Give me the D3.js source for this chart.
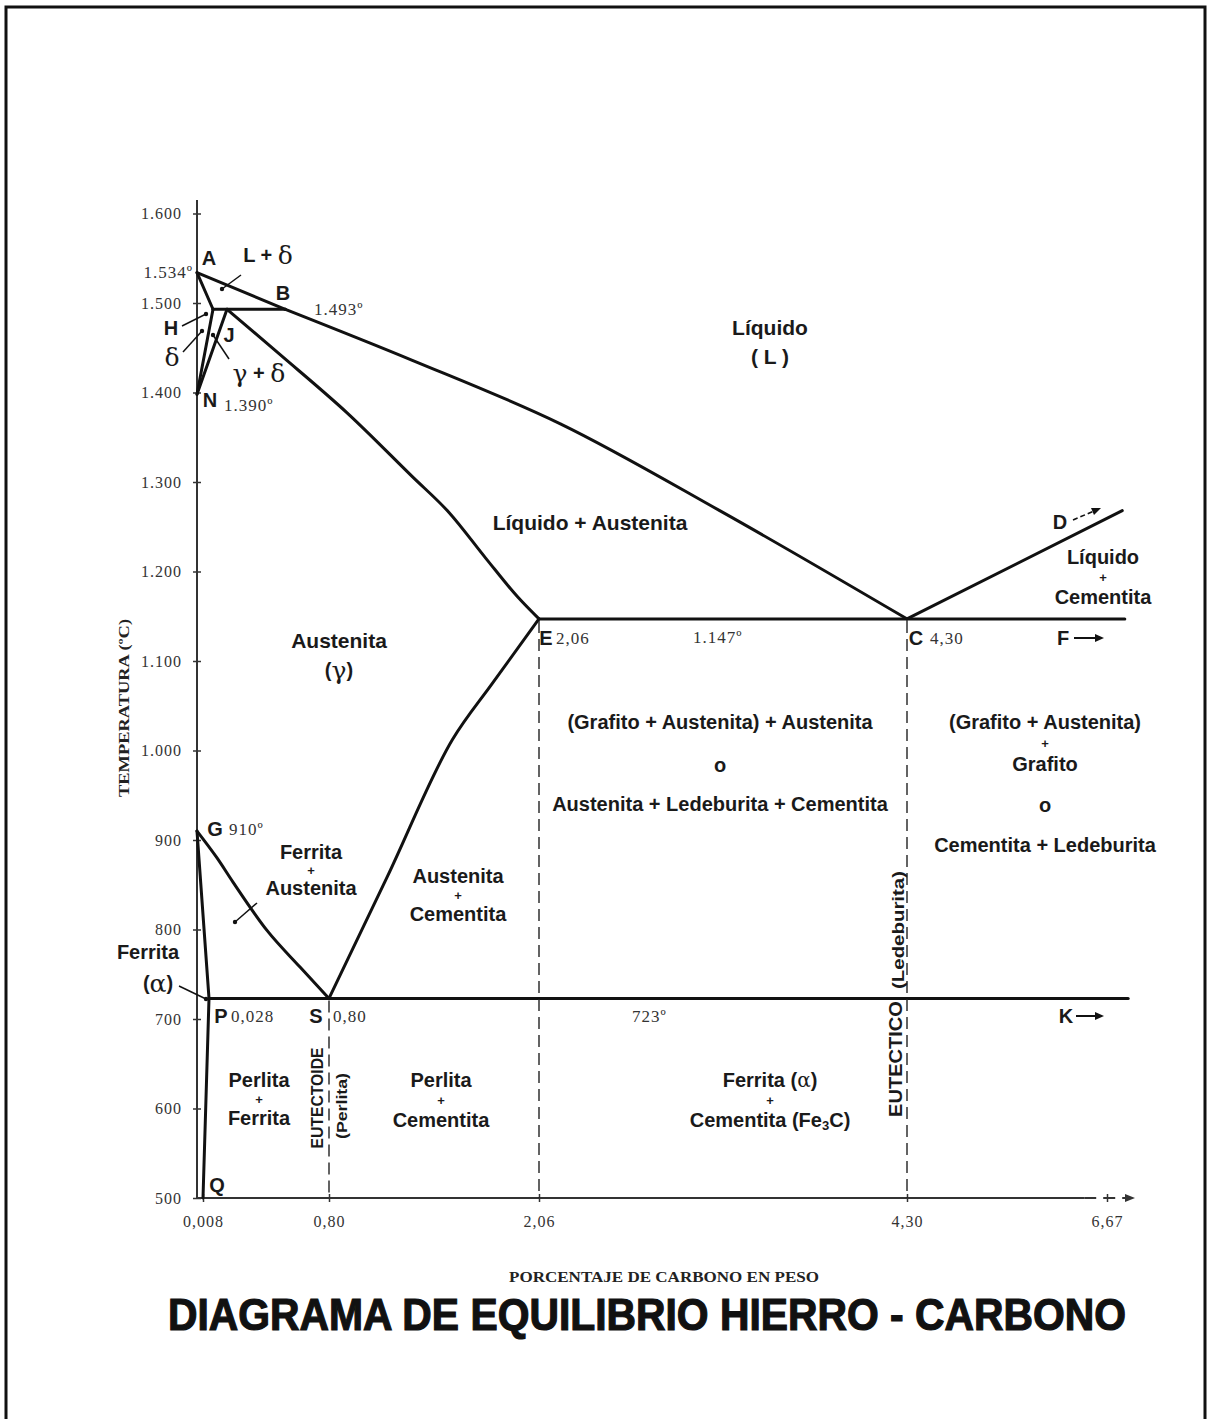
<!DOCTYPE html>
<html lang="es">
<head>
<meta charset="UTF-8">
<title>Diagrama de equilibrio hierro - carbono</title>
<style>
  body { margin: 0; background: #fff; }
  svg { display: block; }
  .phase { fill: none; stroke: #111; stroke-width: 3; stroke-linejoin: round; stroke-linecap: round; }
  .drop { fill: none; stroke: #222; stroke-width: 1.4; stroke-dasharray: 12 6; }
  .lbl { font-family: "Liberation Sans", Arial, sans-serif; font-weight: bold; font-size: 20px; fill: #1a1a1a; text-anchor: middle; dominant-baseline: central; }
  .plus { font-size: 13px; }
  .num { font-family: "Liberation Serif", "Times New Roman", serif; font-size: 17px; letter-spacing: 1px; fill: #333; dominant-baseline: central; }
  .greek { font-family: "DejaVu Serif", "Liberation Serif", serif; font-weight: normal; }
  .axis text { font-family: "Liberation Serif", "Times New Roman", serif; font-size: 16px; letter-spacing: 1px; fill: #333; }
  .axis line { stroke: #333; stroke-width: 1.5; }
  .axtitle { font-family: "Liberation Serif", serif; font-weight: bold; font-size: 14px; fill: #222; text-anchor: middle; }
</style>
</head>
<body>
<svg id="chart" width="1211" height="1419"></svg>
<script src="https://cdnjs.cloudflare.com/ajax/libs/d3/7.9.0/d3.min.js"></script>
<script>
// axis ticks
const yTicks = [500, 600, 700, 800, 900, 1000, 1100, 1200, 1300, 1400, 1500, 1600];
const yTickLabels = ["500", "600", "700", "800", "900", "1.000", "1.100", "1.200", "1.300", "1.400", "1.500", "1.600"];
const xTicks = [0.008, 0.8, 2.06, 4.30, 6.67];
const xTickLabels = ["0,008", "0,80", "2,06", "4,30", "6,67"];

// phase boundaries as [carbon %, temperature ºC]
const liquidusAB = [[0, 1534], [0.53, 1493]];
const liquidusBC = [[0.53, 1493], [1.30, 1436], [2.19, 1365], [3.16, 1268], [4.30, 1147]];
const liquidusCD = [[4.30, 1147], [6.85, 1268]];
const peritecticHB = [[0.09, 1493], [0.53, 1493]];
const deltaAH = [[0, 1534], [0.09, 1493]];
const deltaHN = [[0.09, 1493], [0, 1398]];
const deltaJN = [[0.17, 1493], [0, 1398]];
const solidusJE = [[0.17, 1493], [0.50, 1442], [0.91, 1377], [1.30, 1306], [1.52, 1266], [1.74, 1215], [1.93, 1172], [2.06, 1147]];
const eutecticEF = [[2.06, 1147], [6.88, 1147]];
const acmSE = [[0.8, 723], [1.15, 859], [1.54, 1012], [1.78, 1075], [2.06, 1147]];
const a3GS = [[0, 910], [0.113, 880], [0.207, 853], [0.417, 799], [0.621, 758], [0.8, 723]];
const ferriteGP = [[0, 910], [0.028, 723]];
const ferritePQ = [[0.028, 723], [0.008, 500]];
const eutectoidPK = [[0.028, 723], [6.92, 723]];
// dashed drops from S, E and C down to the axis
const dropLines = [[0.8, 723], [2.06, 1147], [4.30, 1147]];

const svg = d3.select("#chart");

// the drawing is not to scale near 0 % and after 4,30 %, so piecewise
const x = d3.scaleLinear()
    .domain([0, 0.008, 0.028, 0.09, 0.17, 0.8, 2.06, 4.30, 6.67, 7.0])
    .range([197, 203, 209, 213, 227, 329, 539, 907, 1107, 1135]);
const y = d3.scaleLinear().domain([500, 1600]).range([1198, 213.5]);

// frame
svg.append("path")
    .attr("d", "M6,1419 V7 H1205 V1419")
    .attr("fill", "none").attr("stroke", "#111").attr("stroke-width", 3);

// axes
const yAxis = svg.append("g").attr("class", "axis")
    .attr("transform", `translate(${x(0)},0)`)
    .call(d3.axisLeft(y).tickValues(yTicks).tickFormat((d, i) => yTickLabels[i]).tickSize(4).tickPadding(11));
yAxis.select(".domain").remove();
yAxis.selectAll(".tick line").attr("x1", -4).attr("x2", 4);

const xAxis = svg.append("g").attr("class", "axis")
    .attr("transform", `translate(0,${y(500)})`)
    .call(d3.axisBottom(x).tickValues(xTicks).tickFormat((d, i) => xTickLabels[i]).tickSize(4).tickPadding(14));
xAxis.select(".domain").remove();
xAxis.selectAll(".tick line").attr("y1", -4).attr("y2", 4);

svg.append("line")
    .attr("x1", x(0)).attr("x2", x(0)).attr("y1", y(500)).attr("y2", y(1615))
    .attr("stroke", "#333").attr("stroke-width", 2);
svg.append("line")
    .attr("x1", x(0)).attr("x2", x(6.4)).attr("y1", y(500)).attr("y2", y(500))
    .attr("stroke", "#333").attr("stroke-width", 2);
svg.append("line")
    .attr("x1", x(6.4)).attr("x2", x(6.9)).attr("y1", y(500)).attr("y2", y(500))
    .attr("stroke", "#333").attr("stroke-width", 2).attr("stroke-dasharray", "12 7");
svg.append("path")
    .attr("d", `M${x(7.0)},${y(500)} l-10,-4 l0,8 z`).attr("fill", "#333");

// phase lines
const straight = d3.line().x(d => x(d[0])).y(d => y(d[1]));
const smooth = d3.line().x(d => x(d[0])).y(d => y(d[1])).curve(d3.curveMonotoneX);
[liquidusAB, liquidusCD, peritecticHB, deltaAH, deltaHN, deltaJN, eutecticEF, ferriteGP, ferritePQ, eutectoidPK]
    .forEach(p => svg.append("path").attr("class", "phase").attr("d", straight(p)));
[liquidusBC, solidusJE, acmSE, a3GS]
    .forEach(p => svg.append("path").attr("class", "phase").attr("d", smooth(p)));

svg.selectAll(".drop").data(dropLines).enter().append("line")
    .attr("class", "drop")
    .attr("x1", d => x(d[0])).attr("x2", d => x(d[0]))
    .attr("y1", d => y(d[1]) + 2).attr("y2", y(500));

// text helpers
function txt(s, cx, cy, cls, extra) {
    const t = svg.append("text").attr("class", cls || "lbl").attr("x", cx).attr("y", cy).text(s);
    if (extra) extra(t);
    return t;
}
function stack(lines, cx, cy, gap) {
    lines.forEach((s, i) => txt(s, cx, cy + i * gap, s === "+" ? "lbl plus" : "lbl"));
}
function greekLabel(parts, cx, cy) {
    const t = svg.append("text").attr("class", "lbl").attr("x", cx).attr("y", cy);
    parts.forEach(p => t.append("tspan").attr("class", p[1] ? "greek" : null)
        .style("font-size", p[1] ? "25px" : null).text(p[0]));
    return t;
}
function leader(x1, y1, x2, y2) {
    svg.append("line").attr("x1", x1).attr("y1", y1).attr("x2", x2).attr("y2", y2)
        .attr("stroke", "#111").attr("stroke-width", 1.5);
    svg.append("circle").attr("cx", x1).attr("cy", y1).attr("r", 2.2).attr("fill", "#111");
}
function arrowRight(x1, x2, yy, dashed) {
    svg.append("line").attr("x1", x1).attr("x2", x2 - 6).attr("y1", yy).attr("y2", yy)
        .attr("stroke", "#111").attr("stroke-width", 2).attr("stroke-dasharray", dashed ? "5 3" : null);
    svg.append("path").attr("d", `M${x2},${yy} l-9,-4 l0,8 z`).attr("fill", "#111");
}

// point letters
txt("A", 209, 258);
txt("B", 283, 293);
txt("H", 171, 328);
txt("J", 229, 335);
txt("N", 210, 400);
txt("G", 215, 829);
txt("E", 546, 638);
txt("C", 916, 638);
txt("P", 221, 1016);
txt("S", 316, 1016);
txt("Q", 217, 1185);
txt("D", 1060, 522);
txt("F", 1063, 638);
txt("K", 1066, 1016);
arrowRight(1074, 1104, 638);
arrowRight(1076, 1104, 1016);
svg.append("path").attr("d", "M1073,520 L1094,511").attr("stroke", "#111").attr("stroke-width", 1.6)
    .attr("stroke-dasharray", "5 3");
svg.append("path").attr("d", "M1101,508 l-10,0 l3,7 z").attr("fill", "#111");

// values
txt("1.534º", 193, 272, "num").attr("text-anchor", "end");
txt("1.493º", 314, 309, "num");
txt("1.390º", 224, 405, "num");
txt("910º", 229, 829, "num");
txt("2,06", 556, 638, "num");
txt("1.147º", 693, 637, "num");
txt("4,30", 930, 638, "num");
txt("0,028", 231, 1016, "num");
txt("0,80", 333, 1016, "num");
txt("723º", 632, 1016, "num");

// delta corner
greekLabel([["L + ", false], ["δ", true]], 268, 255);
greekLabel([["δ", true]], 172, 357);
greekLabel([["γ", true], [" + ", false], ["δ", true]], 259, 373);
leader(222, 289, 241, 275);
leader(206, 314, 182, 326);
leader(202, 331, 183, 352);
leader(213, 335, 229, 359);

// regions
txt("Líquido", 770, 327, "lbl").style("font-size", "21px");
txt("( L )", 770, 356, "lbl").style("font-size", "21px");
txt("Líquido + Austenita", 590, 522, "lbl").style("font-size", "21px");
stack(["Líquido", "+", "Cementita"], 1103, 557, 20);
txt("Austenita", 339, 640, "lbl").style("font-size", "21px");
greekLabel([["(", false], ["γ", true], [")", false]], 339, 670);
txt("(Grafito + Austenita) + Austenita", 720, 722);
txt("o", 720, 765);
txt("Austenita + Ledeburita + Cementita", 720, 804);
stack(["(Grafito + Austenita)", "+", "Grafito"], 1045, 722, 21);
txt("o", 1045, 805);
txt("Cementita + Ledeburita", 1045, 845);
stack(["Ferrita", "+", "Austenita"], 311, 852, 18);
leader(235, 922, 257, 903);
stack(["Austenita", "+", "Cementita"], 458, 876, 19);
txt("Ferrita", 148, 952);
greekLabel([["(", false], ["α", true], [")", false]], 158, 983);
leader(206, 999, 179, 986);
stack(["Perlita", "+", "Ferrita"], 259, 1080, 19);
stack(["Perlita", "+", "Cementita"], 441, 1080, 20);
svg.append("text").attr("class", "lbl").attr("x", 770).attr("y", 1080)
    .call(t => { t.append("tspan").text("Ferrita ("); t.append("tspan").attr("class", "greek").text("α"); t.append("tspan").text(")"); });
txt("+", 770, 1100, "lbl plus");
svg.append("text").attr("class", "lbl").attr("x", 770).attr("y", 1120)
    .call(t => {
        t.append("tspan").text("Cementita (Fe");
        t.append("tspan").attr("dy", 5).style("font-size", "13px").text("3");
        t.append("tspan").attr("dy", -5).text("C)");
    });

// rotated labels
const rot = (s, cx, cy, size, len) => txt(s, 0, 0, "lbl")
    .attr("transform", `translate(${cx},${cy}) rotate(-90)`).style("font-size", size + "px")
    .attr("textLength", len).attr("lengthAdjust", "spacingAndGlyphs");
rot("EUTECTOIDE", 317, 1098, 17, 101);
rot("(Perlita)", 341, 1106, 15, 66);
rot("EUTECTICO", 896, 1059, 18, 116);
rot("(Ledeburita)", 898, 930, 16, 118);

// axis titles
svg.append("text").attr("class", "axtitle")
    .attr("transform", "translate(124,708) rotate(-90)").attr("dominant-baseline", "central")
    .attr("textLength", 178).attr("lengthAdjust", "spacingAndGlyphs")
    .text("TEMPERATURA (ºC)");
svg.append("text").attr("class", "axtitle")
    .attr("x", 664).attr("y", 1282)
    .attr("textLength", 310).attr("lengthAdjust", "spacingAndGlyphs")
    .text("PORCENTAJE DE CARBONO EN PESO");

// main title
svg.append("text")
    .attr("x", 168).attr("y", 1330)
    .attr("textLength", 958).attr("lengthAdjust", "spacingAndGlyphs")
    .style("font-family", "'Liberation Sans', Arial, sans-serif").style("font-weight", "bold")
    .style("font-size", "44px").attr("fill", "#111").attr("stroke", "#111").attr("stroke-width", 1.2)
    .text("DIAGRAMA DE EQUILIBRIO HIERRO - CARBONO");
</script>
</body>
</html>
